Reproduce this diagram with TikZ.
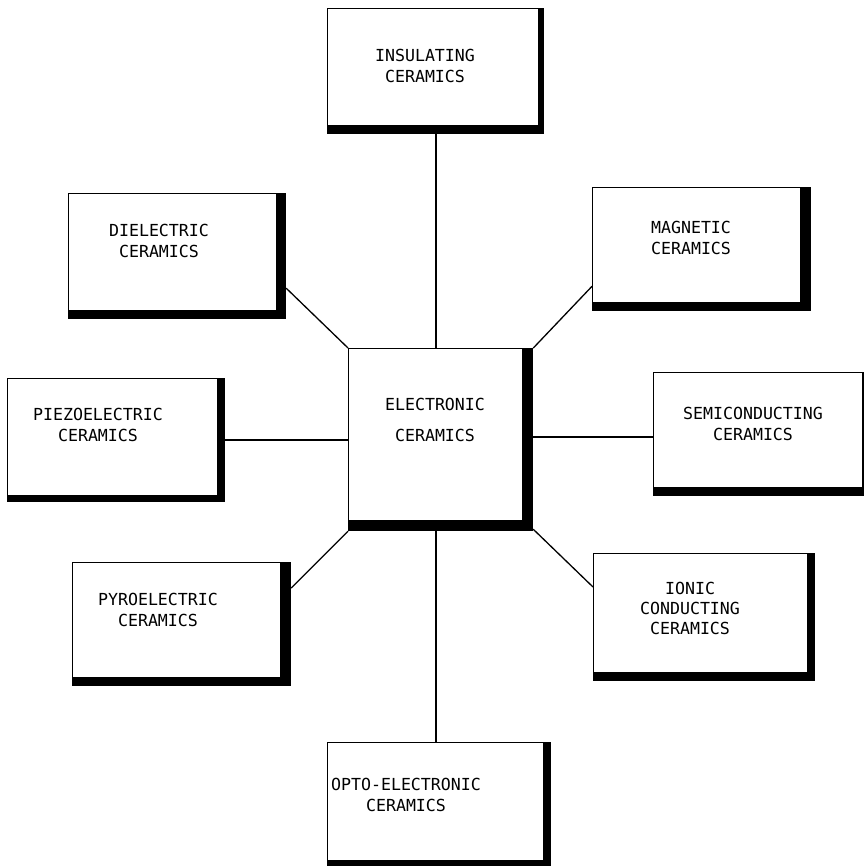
\documentclass[tikz,border=0pt]{standalone}
\usepackage{fontspec}
\setmonofont{DejaVu Sans Mono}
\usetikzlibrary{calc}
\pgfdeclarelayer{bg}
\pgfsetlayers{bg,main}
\begin{document}
\begin{tikzpicture}[x=1pt,y=-1pt,
  cbox/.style={draw=black, line width=1.3pt, fill=white, inner sep=0pt, anchor=north west},
  lbl/.style={font=\ttfamily\fontsize{16.6}{21}\selectfont, align=center, inner sep=0pt},
  conn/.style={line width=1.3pt, line cap=round}]
\useasboundingbox (0,0) rectangle (863,866);

% boxes
\node[cbox, minimum width=211pt, minimum height=117pt] (ins) at (327,8) {};
\node[cbox, minimum width=208pt, minimum height=117pt] (die) at (68,193) {};
\node[cbox, minimum width=208pt, minimum height=115pt] (mag) at (592,187) {};
\node[cbox, minimum width=210pt, minimum height=117pt] (pie) at (7,378) {};
\node[cbox, minimum width=174pt, minimum height=172pt] (ctr) at (348,348) {};
\node[cbox, minimum width=209pt, minimum height=115pt] (sem) at (653,372) {};
\node[cbox, minimum width=208pt, minimum height=115pt] (pyr) at (72,562) {};
\node[cbox, minimum width=214pt, minimum height=119pt] (ion) at (593,553) {};
\node[cbox, minimum width=216pt, minimum height=118pt] (opt) at (327,742) {};

% shadows
\begin{pgfonlayer}{bg}
\fill[black] (ins.north west) rectangle ($(ins.south east)+(5,8)$);
\fill[black] (die.north west) rectangle ($(die.south east)+(9,8)$);
\fill[black] (mag.north west) rectangle ($(mag.south east)+(10,8)$);
\fill[black] (pie.north west) rectangle ($(pie.south east)+(7,6)$);
\fill[black] (ctr.north west) rectangle ($(ctr.south east)+(10,10)$);
\fill[black] (sem.north west) rectangle ($(sem.south east)+(8,8)$);
\fill[black] (pyr.north west) rectangle ($(pyr.south east)+(10,8)$);
\fill[black] (ion.north west) rectangle ($(ion.south east)+(7,8)$);
\fill[black] (opt.north west) rectangle ($(opt.south east)+(7,6)$);
\end{pgfonlayer}

% labels
\node[lbl] (insT) at (425,66) {INSULATING\\CERAMICS};
\node[lbl] (dieT) at (159,241) {DIELECTRIC\\CERAMICS};
\node[lbl] (magT) at (691,238) {MAGNETIC\\CERAMICS};
\node[lbl] (ctrT) at (435,420) {ELECTRONIC\\[10pt]CERAMICS};
\node[lbl] (pieT) at (98,425) {PIEZOELECTRIC\\CERAMICS};
\node[lbl] (semT) at (753,424) {SEMICONDUCTING\\CERAMICS};
\node[lbl] (pyrT) at (158,610) {PYROELECTRIC\\CERAMICS};
\node[lbl, font=\ttfamily\fontsize{16.6}{20}\selectfont] (ionT) at (690,608) {IONIC\\CONDUCTING\\CERAMICS};
\node[lbl] (optT) at (406,795) {OPTO-ELECTRONIC\\CERAMICS};

% connectors
\coordinate (vx) at (436,0);
\coordinate (hl) at (0,440);
\coordinate (hr) at (0,437);
\draw[conn] (ctr.north -| vx) -- (ins.south -| vx);
\draw[conn] (ctr.south -| vx) -- (opt.north -| vx);
\draw[conn] (pie.east |- hl) -- (ctr.west |- hl);
\draw[conn] (ctr.east |- hr) -- (sem.west |- hr);
\draw[conn] ($(die.south east)+(9,-23)$) -- (ctr.north west);
\draw[conn] ($(mag.south west)+(0,-17)$) -- ($(ctr.north east)+(10,0)$);
\draw[conn] ($(pyr.north east)+(10,26)$) -- ($(ctr.south west)+(0,10)$);
\draw[conn] ($(ion.north west)+(0,34)$) -- ($(ctr.south east)+(10,8)$);
\end{tikzpicture}
\end{document}
